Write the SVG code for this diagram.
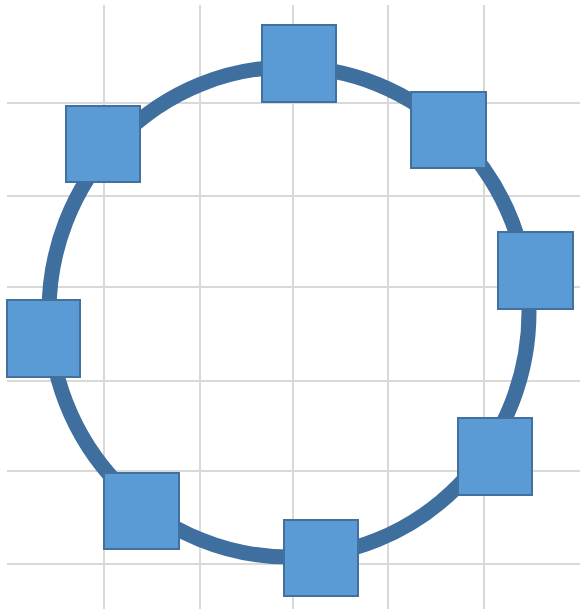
<svg xmlns="http://www.w3.org/2000/svg" width="580" height="609" viewBox="0 0 580 609">
<style>
.grid line{stroke:#d9d9d9;stroke-width:2}
.node rect{fill:#5b9bd5;stroke:#41719c;stroke-width:2}
.ring{fill:none;stroke:#3e6f9e;stroke-width:15}
</style>
<rect width="580" height="609" fill="#ffffff"/>
<g class="grid">
<line x1="104" y1="5" x2="104" y2="609"/>
<line x1="200" y1="5" x2="200" y2="609"/>
<line x1="293" y1="5" x2="293" y2="609"/>
<line x1="388" y1="5" x2="388" y2="609"/>
<line x1="484" y1="5" x2="484" y2="609"/>
<line x1="7" y1="103" x2="580" y2="103"/>
<line x1="7" y1="196" x2="580" y2="196"/>
<line x1="7" y1="287" x2="580" y2="287"/>
<line x1="7" y1="381" x2="580" y2="381"/>
<line x1="7" y1="471" x2="580" y2="471"/>
<line x1="7" y1="564" x2="580" y2="564"/>
</g>
<g id="connectors">
<ellipse class="ring" cx="289" cy="312" rx="240" ry="245"/>
</g>
<g id="n1" class="node"><rect x="262" y="25" width="74" height="77"/></g>
<g id="n2" class="node"><rect x="411" y="92" width="75" height="76"/></g>
<g id="n3" class="node"><rect x="498" y="232" width="75" height="77"/></g>
<g id="n4" class="node"><rect x="458" y="418" width="74" height="77"/></g>
<g id="n5" class="node"><rect x="284" y="520" width="74" height="76"/></g>
<g id="n6" class="node"><rect x="104" y="473" width="75" height="76"/></g>
<g id="n7" class="node"><rect x="7" y="300" width="73" height="77"/></g>
<g id="n8" class="node"><rect x="66" y="106" width="74" height="76"/></g>
</svg>
